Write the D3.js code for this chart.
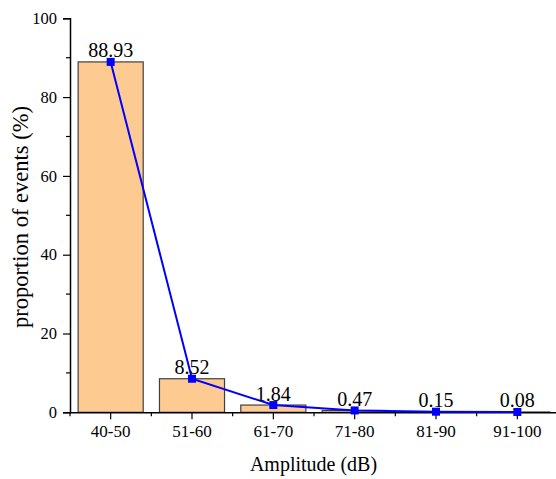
<!DOCTYPE html>
<html>
<head>
<meta charset="utf-8">
<script src="https://cdn.jsdelivr.net/npm/d3@7"></script>
<style>
  html, body { margin: 0; padding: 0; background: #fff; }
  svg { display: block; }
</style>
</head>
<body>
<svg id="chart" width="556" height="479"></svg>
<script>
// Amplitude bins and share of events in each bin (%)
const categories = ["40-50", "51-60", "61-70", "71-80", "81-90", "91-100"];
const proportions = [88.93, 8.52, 1.84, 0.47, 0.15, 0.08];
const valueLabels = ["88.93", "8.52", "1.84", "0.47", "0.15", "0.08"];
const yTicks = [0, 20, 40, 60, 80, 100];
const yMinorTicks = [10, 30, 50, 70, 90];

const FONT = "Liberation Serif";
const svg = d3.select("#chart");
const plotLeft = 70, plotRight = 558, plotTop = 18.3, plotBottom = 412.3;

const x = d3.scaleBand().domain(categories).range([plotLeft, plotRight]).paddingInner(0.2).paddingOuter(0.1);
const xStep = x.step();
const y = d3.scaleLinear().domain([0, 100]).range([plotBottom, plotTop]);

// bars
svg.append("g").selectAll("rect")
  .data(proportions)
  .join("rect")
  .attr("x", (d, i) => x(categories[i]))
  .attr("y", d => y(d))
  .attr("width", x.bandwidth())
  .attr("height", d => y(0) - y(d))
  .attr("fill", "#FDCB92")
  .attr("stroke", "#404040")
  .attr("stroke-width", 1.2);

// y axis
const yAxis = svg.append("g").attr("transform", `translate(${plotLeft},0)`);
yAxis.call(d3.axisLeft(y).tickValues(yTicks).tickSize(7).tickPadding(6).tickFormat(d3.format("d")));
yAxis.attr("font-family", FONT).attr("font-size", 16.5);
yAxis.append("g").selectAll("line").data(yMinorTicks).join("line")
  .attr("x1", -4).attr("x2", 0).attr("y1", d => y(d)).attr("y2", d => y(d))
  .attr("stroke", "#000").attr("stroke-width", 1.2);

// x axis
const xAxis = svg.append("g").attr("transform", `translate(0,${plotBottom})`);
xAxis.call(d3.axisBottom(x).tickSize(7).tickPadding(6).tickSizeOuter(0));
xAxis.attr("font-family", FONT).attr("font-size", 17);
// minor ticks at bin boundaries
const bounds = d3.range(categories.length + 1).map(i => plotLeft + i * xStep);
xAxis.append("g").selectAll("line").data(bounds).join("line")
  .attr("x1", d => d).attr("x2", d => d).attr("y1", 0).attr("y2", 4)
  .attr("stroke", "#000").attr("stroke-width", 1.2);

svg.selectAll(".domain").attr("stroke", "#000").attr("stroke-width", 1.5);
svg.selectAll(".tick line").attr("stroke", "#000").attr("stroke-width", 1.2);
svg.selectAll(".tick text").attr("fill", "#000");

// connecting line
const cx = (d, i) => x(categories[i]) + x.bandwidth() / 2;
svg.append("path")
  .datum(proportions)
  .attr("d", d3.line().x(cx).y(d => y(d)))
  .attr("fill", "none")
  .attr("stroke", "#0000FF")
  .attr("stroke-width", 2);

// value labels
svg.append("g").selectAll("text")
  .data(proportions)
  .join("text")
  .attr("x", cx)
  .attr("y", d => y(d) - 4.5)
  .attr("text-anchor", "middle")
  .attr("font-family", FONT)
  .attr("font-size", 20)
  .attr("fill", "#000")
  .text((d, i) => valueLabels[i]);

// square markers
svg.append("g").selectAll("rect")
  .data(proportions)
  .join("rect")
  .attr("x", (d, i) => cx(d, i) - 4)
  .attr("y", d => y(d) - 4)
  .attr("width", 8)
  .attr("height", 8)
  .attr("fill", "#0000FF");

// axis titles
svg.append("text")
  .attr("x", 313.5)
  .attr("y", 471)
  .attr("text-anchor", "middle")
  .attr("font-family", FONT)
  .attr("font-size", 20)
  .attr("fill", "#000")
  .text("Amplitude (dB)");

svg.append("text")
  .attr("transform", "translate(28,217) rotate(-90)")
  .attr("text-anchor", "middle")
  .attr("font-family", FONT)
  .attr("font-size", 22.5)
  .attr("fill", "#000")
  .text("proportion of events (%)");
</script>
</body>
</html>
